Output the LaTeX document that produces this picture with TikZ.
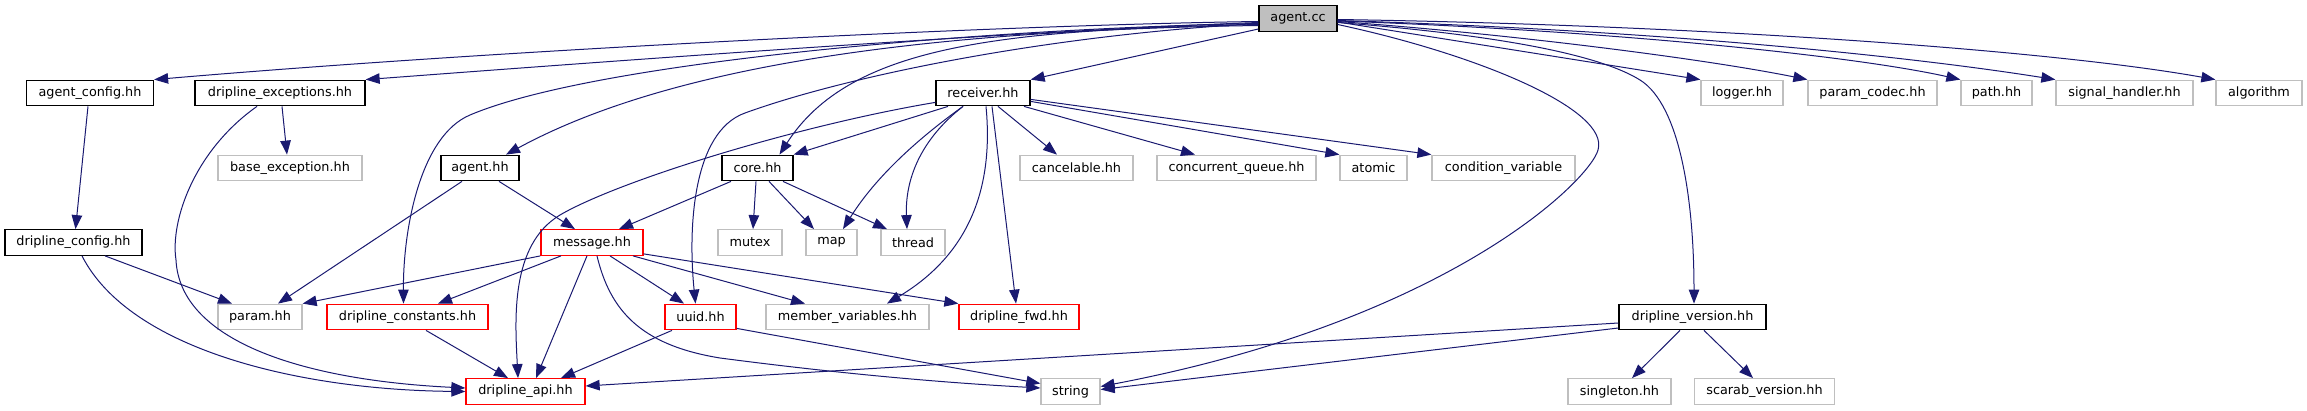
\documentclass[tikz,border=0pt]{standalone}
\usepackage{fontspec}
\setmainfont{DejaVu Sans}
\usetikzlibrary{arrows.meta,calc}
\definecolor{edgec}{HTML}{191970}
\definecolor{extc}{HTML}{BFBFBF}
\definecolor{redc}{HTML}{FF0000}
\definecolor{fillc}{HTML}{BFBFBF}
\begin{document}
\begin{tikzpicture}[x=1pt,y=-1pt,
 box/.style={rectangle, inner sep=0pt, minimum height=25.5pt, line width=1.3pt, font=\fontsize{12.8}{15}\selectfont},
 docbox/.style={box, draw=black},
 extbox/.style={box, draw=extc},
 redbox/.style={box, draw=redc},
 rootbox/.style={box, draw=black, fill=fillc},
 dep/.style={draw=edgec, line width=1pt, -{Triangle[length=14pt,width=10.5pt]}}
]
\useasboundingbox (0,0) rectangle (2307,411);
% nodes
\node[rootbox, minimum width=78pt] (agentcc) at (1298,18.5) {agent.cc};
\node[docbox, minimum width=127pt] (agentconfig) at (90,93) {agent\_config.hh};
\node[docbox, minimum width=170pt] (dexc) at (280,93) {dripline\_exceptions.hh};
\node[docbox, minimum width=94pt] (receiver) at (983,93) {receiver.hh};
\node[extbox, minimum width=82pt] (logger) at (1742,93) {logger.hh};
\node[extbox, minimum width=129pt] (paramcodec) at (1872.5,93) {param\_codec.hh};
\node[extbox, minimum width=71pt] (path) at (1996.5,93) {path.hh};
\node[extbox, minimum width=137pt] (sighandler) at (2124.5,93) {signal\_handler.hh};
\node[extbox, minimum width=86pt] (algorithm) at (2259,93) {algorithm};
\node[extbox, minimum width=144pt] (baseexc) at (290,168) {base\_exception.hh};
\node[docbox, minimum width=78pt] (agenthh) at (480,168) {agent.hh};
\node[docbox, minimum width=71pt] (core) at (757.5,168) {core.hh};
\node[extbox, minimum width=113pt] (cancelable) at (1076.5,168) {cancelable.hh};
\node[extbox, minimum width=159pt] (cqueue) at (1236.5,168) {concurrent\_queue.hh};
\node[extbox, minimum width=67pt] (atomic) at (1373.5,168) {atomic};
\node[extbox, minimum width=143pt] (condvar) at (1503.5,168) {condition\_variable};
\node[docbox, minimum width=137pt] (dconfig) at (73.5,242.5) {dripline\_config.hh};
\node[redbox, minimum width=102pt] (message) at (592,242.5) {message.hh};
\node[extbox, minimum width=64pt] (mutex) at (750,242.5) {mutex};
\node[extbox, minimum width=51pt] (map) at (831.5,242.5) {map};
\node[extbox, minimum width=64pt] (thread) at (913,242.5) {thread};
\node[extbox, minimum width=84pt] (param) at (260,317) {param.hh};
\node[redbox, minimum width=161pt] (dconst) at (407.5,317) {dripline\_constants.hh};
\node[redbox, minimum width=71pt] (uuid) at (700.5,317) {uuid.hh};
\node[extbox, minimum width=163pt] (membervars) at (847.5,317) {member\_variables.hh};
\node[redbox, minimum width=120pt] (dfwd) at (1019,317) {dripline\_fwd.hh};
\node[docbox, minimum width=147pt] (dversion) at (1692.5,317) {dripline\_version.hh};
\node[redbox, minimum width=119pt] (dapi) at (525.5,391.5) {dripline\_api.hh};
\node[extbox, minimum width=59pt] (string) at (1070.5,391.5) {string};
\node[extbox, minimum width=103pt] (singleton) at (1619.5,391.5) {singleton.hh};
\node[extbox, minimum width=140pt] (scarab) at (1764.5,391.5) {scarab\_version.hh};
% agent.cc edges (left)
\draw[dep] ($(agentcc.west)+(0,3)$) .. controls (1000,25) and (500,50) .. (agentconfig.north east);
\draw[dep] ($(agentcc.west)+(0,4)$) .. controls (1000,32) and (600,62) .. (dexc.north east);
\draw[dep] ($(agentcc.west)+(0,7)$) .. controls (950,30) and (680,60) .. ($(agenthh.north)+(26,0)$);
\draw[dep] ($(agentcc.west)+(0,5)$) .. controls (1000,28) and (600,60) .. (470,115) .. controls (420,136) and (403,230) .. ($(dconst.north)+(-4,0)$);
\draw[dep] ($(agentcc.west)+(0,6)$) .. controls (1000,30) and (850,45) .. ($(core.north)+(22,0)$);
\draw[dep] ($(agentcc.west)+(0,5)$) .. controls (1050,35) and (850,75) .. (745,113) .. controls (692,132) and (688,230) .. ($(uuid.north)+(-5,0)$);
\draw[dep] ($(agentcc.west)+(0,10.5)$) -- (receiver.north east);
% agent.cc edges (right)
\draw[dep] ($(agentcc.east)+(0,3.5)$) -- (logger.north west);
\draw[dep] ($(agentcc.east)+(0,3)$) .. controls (1500,33) and (1700,58) .. (paramcodec.north west);
\draw[dep] ($(agentcc.east)+(0,2.5)$) .. controls (1600,30) and (1850,55) .. (path.north west);
\draw[dep] ($(agentcc.east)+(0,2)$) .. controls (1650,30) and (1900,55) .. (sighandler.north west);
\draw[dep] ($(agentcc.east)+(0,1)$) .. controls (1700,25) and (2050,50) .. (algorithm.north west);
\draw[dep] ($(agentcc.east)+(0,6)$) .. controls (1480,55) and (1610,110) .. (1598,150) .. controls (1590,180) and (1450,320) .. ($(string.east)+(0,-5)$);
\draw[dep] ($(agentcc.east)+(0,4)$) .. controls (1500,35) and (1600,55) .. (1640,80) .. controls (1680,105) and (1694,200) .. ($(dversion.north)+(1.5,0)$);
% agent_config, dripline_exceptions, dripline_config
\draw[dep] ($(agentconfig.south)+(-2,0)$) -- ($(dconfig.north)+(2,0)$);
\draw[dep] ($(dexc.south)+(2,0)$) -- ($(baseexc.north)+(-3,0)$);
\draw[dep] ($(dexc.south)+(-23,0)$) .. controls (195,150) and (170,220) .. (176,260) .. controls (180,340) and (300,380) .. ($(dapi.west)+(0,-3.5)$);
\draw[dep] ($(dconfig.south)+(8.5,0)$) .. controls (130,350) and (300,390) .. (dapi.west);
\draw[dep] ($(dconfig.south)+(31.5,0)$) -- ($(param.north)+(-28,0)$);
% agent.hh
\draw[dep] ($(agenthh.south)+(-18,0)$) -- ($(param.north)+(18,0)$);
\draw[dep] ($(agenthh.south)+(19,0)$) -- ($(message.north)+(-17,0)$);
% core.hh
\draw[dep] ($(core.south)+(-26.5,0)$) -- ($(message.north)+(27,0)$);
\draw[dep] ($(core.south)+(-1.5,0)$) -- ($(mutex.north)+(3,0)$);
\draw[dep] ($(core.south)+(11.5,0)$) -- ($(map.north)+(-17.5,0)$);
\draw[dep] ($(core.south)+(25.5,0)$) -- ($(thread.north)+(-26,0)$);
% message.hh
\draw[dep] (message.south west) -- (param.north east);
\draw[dep] ($(message.south)+(-31,0)$) -- ($(dconst.north)+(30.5,0)$);
\draw[dep] ($(message.south)+(-5,0)$) -- ($(dapi.north)+(10.5,0)$);
\draw[dep] ($(message.south)+(18,0)$) -- ($(uuid.north)+(-16.5,0)$);
\draw[dep] ($(message.south)+(41,0)$) -- ($(membervars.north)+(-42.5,0)$);
\draw[dep] ($(message.south east)+(0,-2)$) -- (dfwd.north west);
\draw[dep] ($(message.south)+(5,0)$) .. controls (610,310) and (640,345) .. (720,358) .. controls (850,375) and (950,383) .. ($(string.west)+(0,-3.5)$);
% dripline_constants, uuid
\draw[dep] ($(dconst.south)+(18.5,0)$) -- ($(dapi.north)+(-17.5,0)$);
\draw[dep] ($(uuid.south)+(-28.5,0)$) -- ($(dapi.north)+(35.5,0)$);
\draw[dep] ($(uuid.south east)+(0,-2)$) -- ($(string.west)+(0,-8)$);
% receiver.hh
\draw[dep] ($(receiver.south)+(-35,0)$) -- (core.north east);
\draw[dep] ($(receiver.south west)+(0,-4)$) .. controls (800,125) and (620,180) .. (560,215) .. controls (510,245) and (515,320) .. ($(dapi.north)+(-7.5,0)$);
\draw[dep] ($(receiver.south)+(-20,0)$) .. controls (930,130) and (880,170) .. ($(map.north)+(11.5,0)$);
\draw[dep] ($(receiver.south)+(-20,0)$) .. controls (920,140) and (905,180) .. ($(thread.north)+(-6,0)$);
\draw[dep] ($(receiver.south)+(3,0)$) .. controls (995,200) and (960,260) .. ($(membervars.north)+(39.5,0)$);
\draw[dep] ($(receiver.south)+(9,0)$) -- ($(dfwd.north)+(-3,0)$);
\draw[dep] ($(receiver.south)+(15,0)$) -- ($(cancelable.north)+(-19.5,0)$);
\draw[dep] ($(receiver.south)+(41,0)$) -- ($(cqueue.north)+(-41.5,0)$);
\draw[dep] ($(receiver.south east)+(0,-5)$) -- (atomic.north west);
\draw[dep] ($(receiver.south east)+(0,-7)$) -- (condvar.north west);
% dripline_version.hh
\draw[dep] ($(dversion.west)+(0,6)$) -- ($(dapi.east)+(0,-5.5)$);
\draw[dep] ($(dversion.west)+(0,11)$) -- ($(string.east)+(0,-2)$);
\draw[dep] ($(dversion.south)+(-12.5,0)$) -- ($(singleton.north)+(12.5,0)$);
\draw[dep] ($(dversion.south)+(11.5,0)$) -- ($(scarab.north)+(-11.5,0)$);
\end{tikzpicture}
\end{document}
